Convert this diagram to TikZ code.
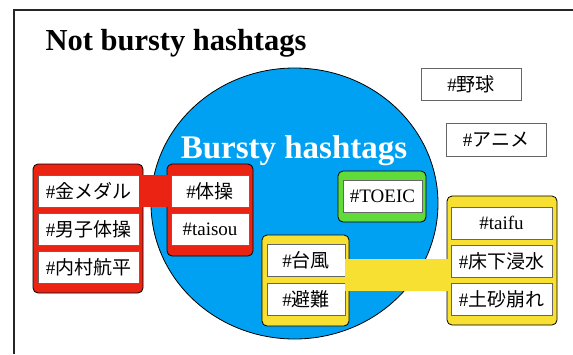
\documentclass[tikz,border=0pt]{standalone}
\usepackage{fontspec}
\setmainfont{Liberation Serif}
\newfontfamily\jp{Noto Sans CJK JP}
\newcommand{\hashjp}[1]{\#{\jp #1}}
\definecolor{burstblue}{RGB}{0,161,243}
\definecolor{groupred}{RGB}{235,35,19}
\definecolor{groupgreen}{RGB}{96,219,58}
\definecolor{groupyellow}{RGB}{247,224,50}

\begin{document}
\begin{tikzpicture}[x=1pt,y=-1pt,
    tagbox/.style={draw=black!60,fill=white,line width=0.9pt,inner sep=0pt,
      minimum height=32pt,font=\fontsize{19}{19}\selectfont},
    group/.style={draw=black,line width=0.8pt,rounded corners=5pt,inner sep=0pt}]
  \useasboundingbox (0,0) rectangle (573,354);
  \draw[line width=1.2pt,black!85] (573,10) -- (14,10) -- (14,354);
  \node[anchor=base west,font=\fontsize{30.5}{30.5}\selectfont\bfseries] (notbursty) at (42,50) {Not bursty hashtags};

  \draw[fill=burstblue,line width=0.8pt] (294.5,203.5) ellipse [x radius=143.5, y radius=135.5];
  \node[anchor=base,text=white,font=\fontsize{33}{33}\selectfont\bfseries] (bursty) at (294,158) {Bursty hashtags};

  % groups
  \node[group,fill=groupred,minimum width=110pt,minimum height=129pt] (redl) at (88,228.5) {};
  \node[group,fill=groupred,minimum width=86pt,minimum height=92pt] (redr) at (210,210) {};
  \node[group,fill=groupgreen,minimum width=88pt,minimum height=51pt] (green) at (382,196.5) {};
  \node[group,fill=groupyellow,minimum width=87pt,minimum height=91pt] (yell) at (305.5,280.5) {};
  \node[group,fill=groupyellow,minimum width=110pt,minimum height=129pt] (yelr) at (502,260.5) {};

  % hashtags
  \node[tagbox,minimum width=101pt] (kinmedal) at (88.5,191) {\hashjp{金メダル}};
  \node[tagbox,minimum width=101pt] (danshi) at (88.5,229) {\hashjp{男子体操}};
  \node[tagbox,minimum width=101pt] (uchimura) at (88.5,267) {\hashjp{内村航平}};
  \node[tagbox,minimum width=78pt] (taiso) at (210,191) {\hashjp{体操}};
  \node[tagbox,minimum width=78pt] (taisou) at (210,229) {\#taisou};
  \node[tagbox,minimum width=79pt] (toeic) at (382.5,196) {\#TOEIC};
  \node[tagbox,minimum width=78pt] (taifuu) at (306,260.5) {\hashjp{台風}};
  \node[tagbox,minimum width=78pt] (hinan) at (306,299) {\hashjp{避難}};
  \node[tagbox,minimum width=101pt] (taifu) at (501.5,223) {\#taifu};
  \node[tagbox,minimum width=101pt] (shinsui) at (501.5,261) {\hashjp{床下浸水}};
  \node[tagbox,minimum width=101pt] (dosha) at (501.5,299) {\hashjp{土砂崩れ}};
  \node[tagbox,minimum width=100pt] (yakyu) at (471,84) {\hashjp{野球}};
  \node[tagbox,minimum width=100pt,minimum height=33pt] (anime) at (496,139.5) {\hashjp{アニメ}};

  % links
  \fill[groupred] (kinmedal.north east) rectangle (taiso.south west);
  \fill[groupyellow] ([yshift=1.5pt]taifuu.east) rectangle ([yshift=8pt]dosha.west);
\end{tikzpicture}
\end{document}
